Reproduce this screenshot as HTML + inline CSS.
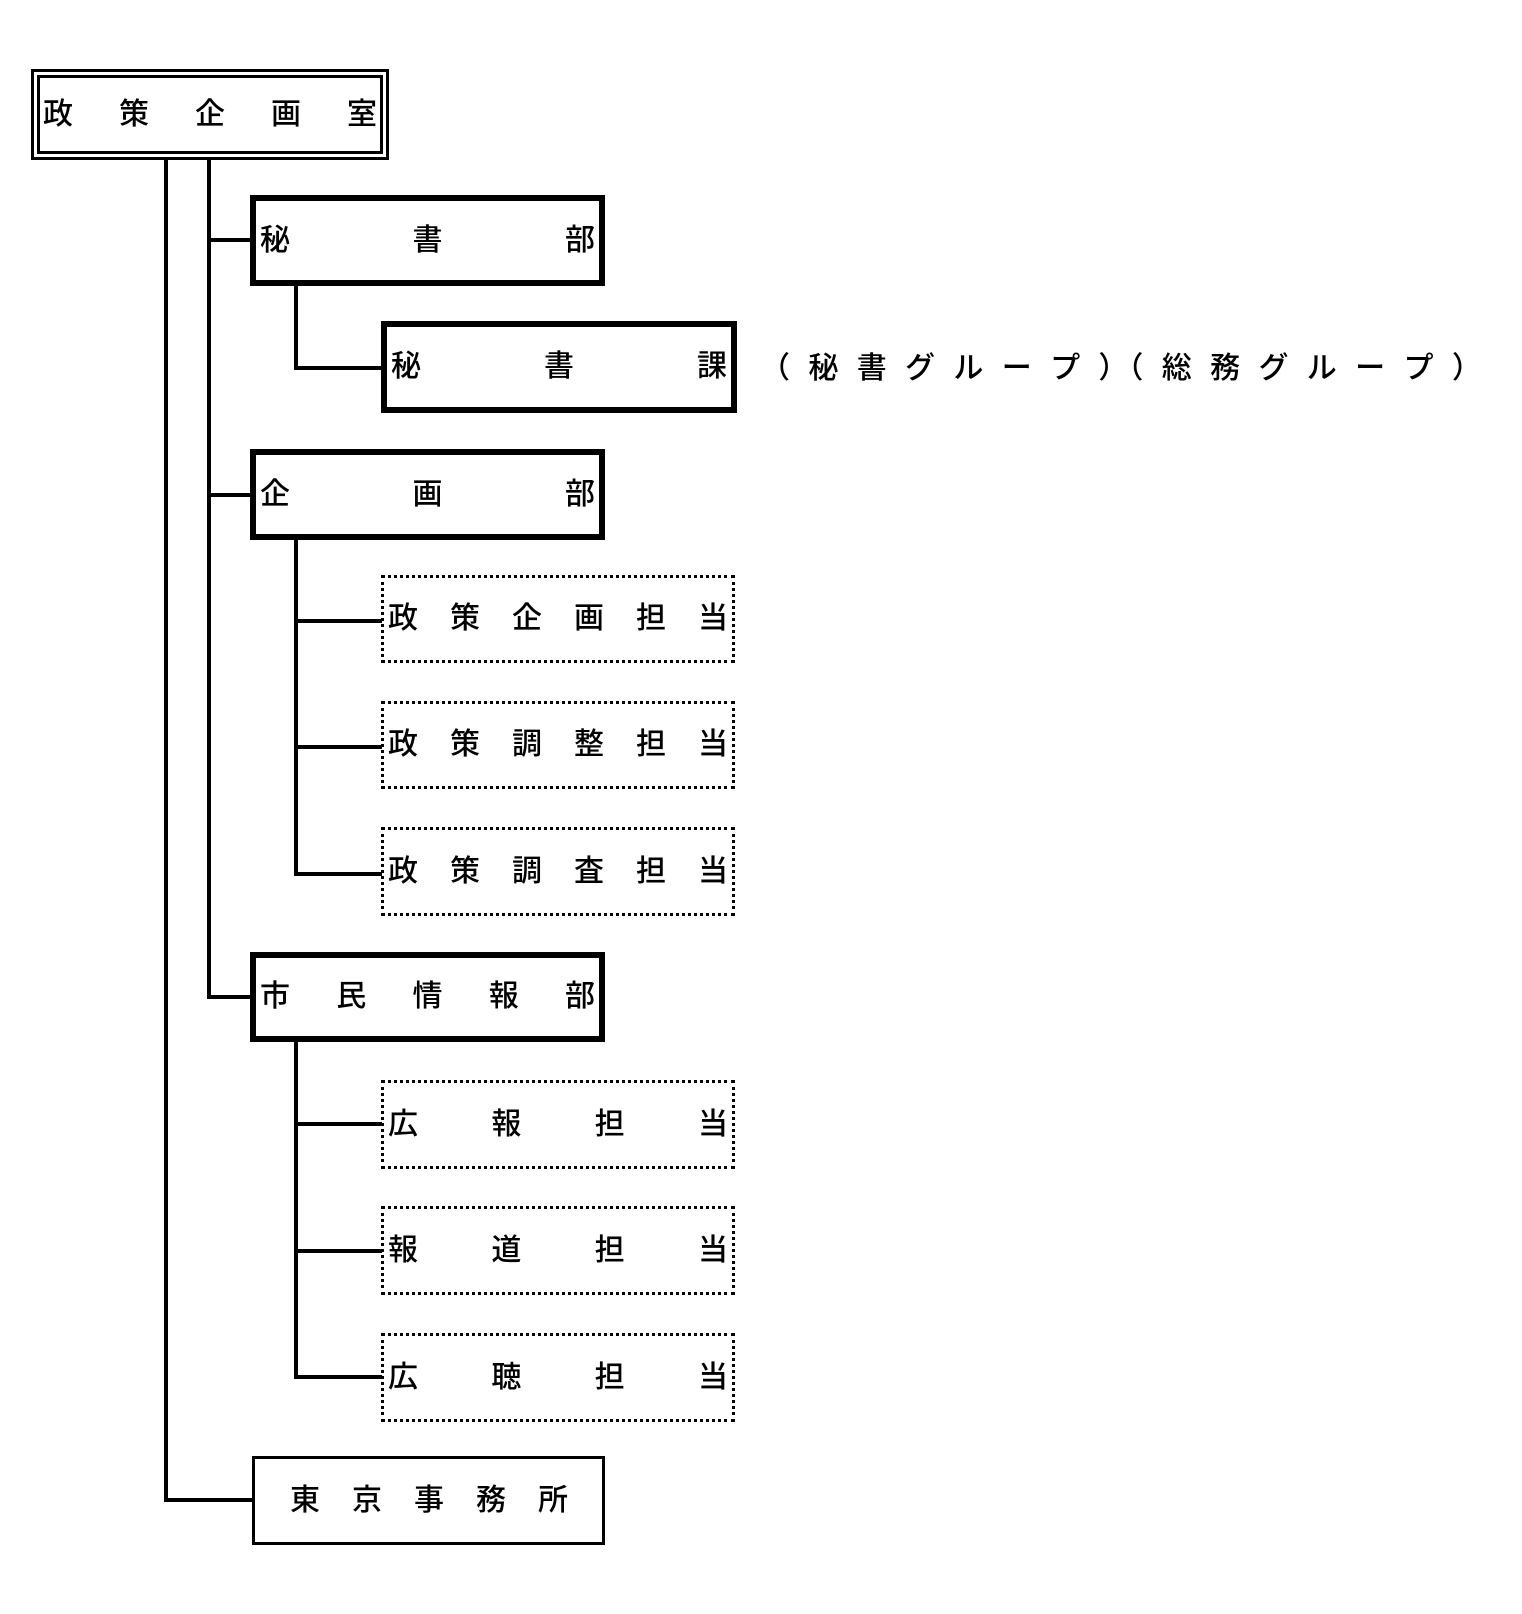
<!DOCTYPE html>
<html><head><meta charset="utf-8">
<style>
body{margin:0;width:1522px;height:1614px;background:#fff;position:relative;overflow:hidden;font-family:"Liberation Sans","Noto Sans CJK JP",sans-serif;}
.b{position:absolute;box-sizing:border-box;display:flex;justify-content:space-between;align-items:center;padding:0 4px;font-size:30px;color:#000;line-height:1;font-weight:500;}
.th{border:6px solid #000;}
.dt{border:3px dotted #000;}
.l{position:absolute;background:#000;}
</style></head><body>
<div class="b" style="left:31px;top:69px;width:358px;height:91px;border:3px solid #000;padding:0;">
 <div style="position:absolute;left:3px;top:3px;right:3px;bottom:3px;border:3px solid #000;display:flex;justify-content:space-between;align-items:center;padding:0 3px;"><span>政</span><span>策</span><span>企</span><span>画</span><span>室</span></div>
</div>
<div class="l" style="left:164px;top:160px;width:4px;height:1342px"></div>
<div class="l" style="left:207px;top:160px;width:4px;height:839px"></div>

<div class="l" style="left:207px;top:238px;width:45px;height:4px"></div>
<div class="b th" style="left:250px;top:195px;width:355px;height:91px"><span>秘</span><span>書</span><span>部</span></div>
<div class="l" style="left:294px;top:286px;width:4px;height:84px"></div>
<div class="l" style="left:294px;top:366px;width:88px;height:4px"></div>
<div class="b th" style="left:381px;top:321px;width:356px;height:92px"><span>秘</span><span>書</span><span>課</span></div>
<div style="position:absolute;left:760px;top:354px;width:722px;font-size:30px;display:flex;justify-content:space-between;line-height:1;font-weight:500"><span>（</span><span>秘</span><span>書</span><span>グ</span><span>ル</span><span>ー</span><span>プ</span><span>）（</span><span>総</span><span>務</span><span>グ</span><span>ル</span><span>ー</span><span>プ</span><span>）</span></div>

<div class="l" style="left:207px;top:493px;width:45px;height:4px"></div>
<div class="b th" style="left:250px;top:449px;width:355px;height:91px"><span>企</span><span>画</span><span>部</span></div>
<div class="l" style="left:294px;top:540px;width:4px;height:336px"></div>
<div class="l" style="left:294px;top:619px;width:88px;height:4px"></div>
<div class="l" style="left:294px;top:745px;width:88px;height:4px"></div>
<div class="l" style="left:294px;top:872px;width:88px;height:4px"></div>
<div class="b dt" style="left:381px;top:575px;width:354px;height:88px"><span>政</span><span>策</span><span>企</span><span>画</span><span>担</span><span>当</span></div>
<div class="b dt" style="left:381px;top:701px;width:354px;height:88px"><span>政</span><span>策</span><span>調</span><span>整</span><span>担</span><span>当</span></div>
<div class="b dt" style="left:381px;top:827px;width:354px;height:89px"><span>政</span><span>策</span><span>調</span><span>査</span><span>担</span><span>当</span></div>

<div class="l" style="left:207px;top:995px;width:45px;height:4px"></div>
<div class="b th" style="left:250px;top:952px;width:355px;height:90px"><span>市</span><span>民</span><span>情</span><span>報</span><span>部</span></div>
<div class="l" style="left:294px;top:1042px;width:4px;height:337px"></div>
<div class="l" style="left:294px;top:1122px;width:88px;height:4px"></div>
<div class="l" style="left:294px;top:1249px;width:88px;height:4px"></div>
<div class="l" style="left:294px;top:1375px;width:88px;height:4px"></div>
<div class="b dt" style="left:381px;top:1080px;width:354px;height:89px"><span>広</span><span>報</span><span>担</span><span>当</span></div>
<div class="b dt" style="left:381px;top:1206px;width:354px;height:89px"><span>報</span><span>道</span><span>担</span><span>当</span></div>
<div class="b dt" style="left:381px;top:1333px;width:354px;height:89px"><span>広</span><span>聴</span><span>担</span><span>当</span></div>

<div class="l" style="left:164px;top:1498px;width:90px;height:4px"></div>
<div class="b" style="left:252px;top:1456px;width:353px;height:89px;border:3px solid #000;padding:0 34px 0 35px"><span>東</span><span>京</span><span>事</span><span>務</span><span>所</span></div>
</body></html>
